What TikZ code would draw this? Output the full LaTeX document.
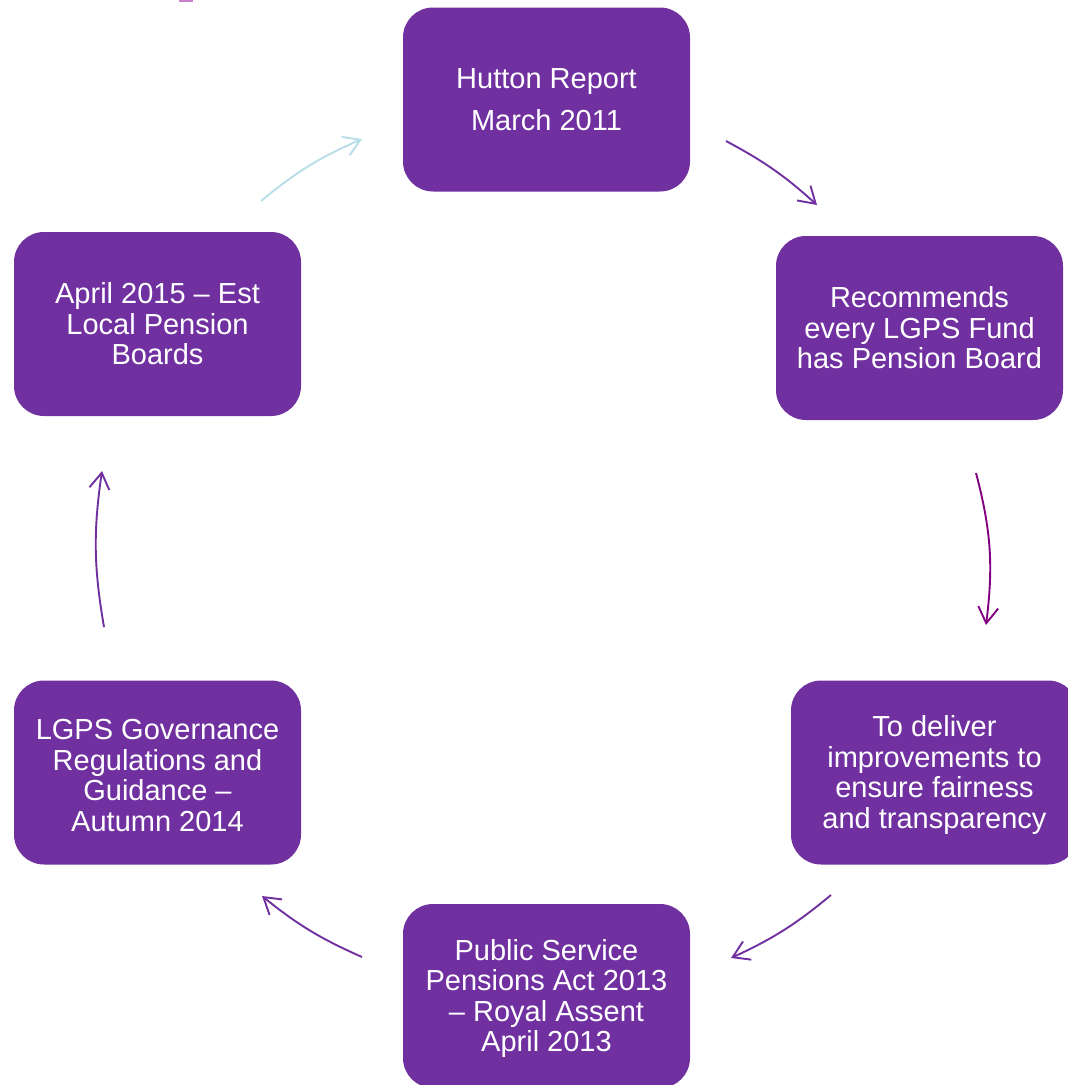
\documentclass[tikz,border=0pt]{standalone}
\usepackage{fontspec}
\setmainfont{Liberation Sans}
\usetikzlibrary{arrows.meta}
\definecolor{boxpurple}{HTML}{7030A0}
\definecolor{darkplum}{HTML}{800080}
\definecolor{paleteal}{HTML}{B7DEE8}
\definecolor{pinkmark}{HTML}{C882CC}
\newcommand{\toplift}{\rule{0pt}{26pt}}
\begin{document}
\begin{tikzpicture}[x=1pt,y=1pt,
    stage/.style={fill=boxpurple, rounded corners=30pt, minimum width=287pt,
        minimum height=184pt, inner sep=0pt, text=white, align=center,
        font=\fontsize{29}{30.5}\selectfont},
    cyclearrow/.style={line width=1.9pt, boxpurple,
        -{Straight Barb[length=16pt,width=20pt]}}]
    \useasboundingbox (0,0) rectangle (1068,-1085);
    \clip (0,0) rectangle (1068,-1085);

    \fill[pinkmark] (179,0) rectangle (193,-2);

    \node[stage, font=\fontsize{29}{42}\selectfont] (hutton) at (546.5,-99.5) {Hutton Report\\March 2011};
    \node[stage] (recommends) at (919.5,-328) {Recommends\\every LGPS Fund\\has Pension Board};
    \node[stage] (deliver) at (934.5,-772.5) {\toplift To deliver\\improvements to\\ensure fairness\\and transparency};
    \node[stage] (act) at (546.5,-996) {\toplift Public Service\\Pensions Act 2013\\– Royal Assent\\April 2013};
    \node[stage] (governance) at (157.5,-772.5) {\toplift LGPS Governance\\Regulations and\\Guidance –\\Autumn 2014};
    \node[stage] (boards) at (157.5,-324) {April 2015 – Est\\Local Pension\\Boards};

    \foreach \name/\x/\y in {boards-out/261/201, hutton-in/362/139,
        hutton-out/726/141, recommends-in/817/205,
        recommends-out/976/473, deliver-in/986/625,
        deliver-out/831/895, act-in/731/958,
        act-out/362/957, governance-in/262/896,
        governance-out/104/627, boards-in/102/471}
        \coordinate (\name) at (\x,-\y);

    \draw[cyclearrow, paleteal] (boards-out) to[bend left=8] (hutton-in);
    \draw[cyclearrow] (hutton-out) to[bend left=7] (recommends-in);
    \draw[cyclearrow, darkplum] (recommends-out) to[bend left=11] (deliver-in);
    \draw[cyclearrow] (deliver-out) to[bend left=7.5] (act-in);
    \draw[cyclearrow] (act-out) to[bend left=7.5] (governance-in);
    \draw[cyclearrow] (governance-out) to[bend left=9] (boards-in);
\end{tikzpicture}
\end{document}
